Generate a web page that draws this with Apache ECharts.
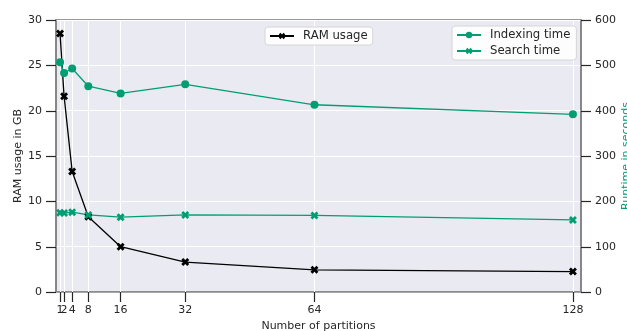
<!DOCTYPE html>
<html><head><meta charset="utf-8">
<script src="https://cdn.jsdelivr.net/npm/echarts@6/dist/echarts.min.js"></script>
<style>html,body{margin:0;padding:0;background:#fff}#c{width:627px;height:331px}</style>
</head><body><div id="c"></div>
<script>
const partitions = [1, 2, 4, 8, 16, 32, 64, 128];
const ramUsage = [28.5, 21.6, 13.3, 8.3, 5.0, 3.3, 2.45, 2.25];
const indexingTime = [507, 483, 493, 454, 438, 458, 413, 392];
const searchTime = [175, 174, 176, 170, 165, 170, 169, 159];
const xTicks = [1, 2, 4, 8, 16, 32, 64, 128];
const xTicksA = [1, 4, 8, 16, 32, 64, 128];  // labels drawn on the main axis
const xTicksB = [2];                         // label drawn on overlay axis (avoids overlap hiding)
const leftTicks = [0, 5, 10, 15, 20, 25, 30];
const rightTicks = [0, 100, 200, 300, 400, 500, 600];

const GREEN = '#029e73';
const TXT = '#262626';
const XSYM = 'path://M0,2.5 L2.5,0 L5,2.5 L7.5,0 L10,2.5 L7.5,5 L10,7.5 L7.5,10 L5,7.5 L2.5,10 L0,7.5 L2.5,5 Z';
const font = 'DejaVu Sans';
const TICK_LEN = 10;
const X_MIN = 0, X_MAX = 130;

const pair = (xs, ys) => xs.map((x, i) => [x, ys[i]]);

const legendText = {fontSize: 11.7, color: TXT, fontFamily: font, padding: [0, 0, 0, 4]};

// tick marks for the value axes, drawn through the axes' own scales
function tickSeries(yIdx, values, atX, dir) {
  return {
    type: 'custom', name: '_ticks' + yIdx, yAxisIndex: yIdx, silent: true, clip: false, z: 10,
    data: values.map(v => [atX, v]),
    renderItem: function (params, api) {
      const p = api.coord([atX, api.value(1)]);
      const y = Math.round(p[1]) + 0.5;
      return {type: 'line', shape: {x1: p[0], y1: y, x2: p[0] + dir * TICK_LEN, y2: y},
              style: {stroke: '#262626', lineWidth: 1.2}};
    }
  };
}

const chart = echarts.init(document.getElementById('c'), null, {renderer: 'canvas'});
chart.setOption({
  animation: false,
  textStyle: {fontFamily: font},
  grid: {left: 56, right: 46, top: 20, bottom: 39, containLabel: false, outerBoundsMode: 'none',
         show: true, backgroundColor: '#eaeaf2', borderColor: '#333', borderWidth: 1.2},
  legend: [
    {data: ['RAM usage'], left: 265, top: 27, z: 20, padding: [3, 5, 3, 4], itemWidth: 24, itemHeight: 8, itemGap: 4,
     backgroundColor: 'rgba(255,255,255,0.9)', borderColor: '#d6d6d6', borderWidth: 1, borderRadius: 3,
     textStyle: legendText},
    {data: ['Indexing time', 'Search time'], left: 452, top: 26, z: 20, orient: 'vertical', padding: [3, 6, 3, 4], itemWidth: 24, itemHeight: 8, itemGap: 4,
     backgroundColor: 'rgba(255,255,255,0.9)', borderColor: '#d6d6d6', borderWidth: 1, borderRadius: 3,
     textStyle: legendText}
  ],
  xAxis: [{
    type: 'value', min: X_MIN, max: X_MAX,
    name: 'Number of partitions', nameLocation: 'middle', nameGap: 29, nameMoveOverlap: false,
    nameTextStyle: {fontSize: 11, color: TXT},
    axisLine: {show: true, onZero: false, lineStyle: {color: '#8a8a8a', width: 1.5}},
    axisTick: {show: true, inside: false, length: TICK_LEN, customValues: xTicks, lineStyle: {color: '#262626', width: 1.2}},
    axisLabel: {customValues: xTicksA, fontSize: 11, color: TXT, margin: 13, showMinLabel: true, showMaxLabel: true, hideOverlap: false},
    splitLine: {show: false}
  }, {
    type: 'value', min: X_MIN, max: X_MAX, position: 'bottom',
    axisLine: {show: false, onZero: false}, axisTick: {show: false}, splitLine: {show: false},
    axisLabel: {customValues: xTicksB, fontSize: 11, color: TXT, margin: 13, hideOverlap: false}
  }],
  yAxis: [
    {type: 'value', min: 0, max: 30, interval: 5, position: 'left',
     name: 'RAM usage in GB', nameLocation: 'middle', nameGap: 32, nameRotate: 90, nameMoveOverlap: false,
     nameTextStyle: {fontSize: 11, color: TXT},
     axisLine: {show: true, onZero: false, lineStyle: {color: '#8a8a8a', width: 1.5}},
     axisTick: {show: false},
     axisLabel: {fontSize: 11, color: TXT, margin: 14},
     splitLine: {show: true, lineStyle: {color: '#fff', width: 1}}},
    {type: 'value', min: 0, max: 600, interval: 100, position: 'right',
     name: 'Runtime in seconds', nameLocation: 'middle', nameGap: 40, nameRotate: 90, nameMoveOverlap: false,
     nameTextStyle: {fontSize: 11, color: GREEN},
     axisLine: {show: true, onZero: false, lineStyle: {color: '#8a8a8a', width: 1.5}},
     axisTick: {show: false},
     axisLabel: {fontSize: 11, color: TXT, margin: 14},
     splitLine: {show: false}}
  ],
  series: [
    {type: 'line', name: '_vgrid', data: [], z: 1, silent: true, yAxisIndex: 0,
     markLine: {silent: true, z: 1, symbol: 'none', label: {show: false},
       lineStyle: {color: '#fff', width: 1, type: 'solid'},
       data: xTicks.map(v => ({xAxis: v}))}},
    tickSeries(0, leftTicks, X_MIN, -1),
    tickSeries(1, rightTicks, X_MAX, 1),
    {type: 'line', name: 'RAM usage', yAxisIndex: 0, data: pair(partitions, ramUsage),
     symbol: XSYM, symbolSize: 8, showSymbol: true,
     itemStyle: {color: '#000'}, lineStyle: {color: '#000', width: 1.3}, z: 3},
    {type: 'line', name: 'Indexing time', yAxisIndex: 1, data: pair(partitions, indexingTime),
     symbol: 'circle', symbolSize: 8,
     itemStyle: {color: GREEN, borderWidth: 0}, lineStyle: {color: GREEN, width: 1.3}},
    {type: 'line', name: 'Search time', yAxisIndex: 1, data: pair(partitions, searchTime),
     symbol: XSYM, symbolSize: 8,
     itemStyle: {color: GREEN}, lineStyle: {color: GREEN, width: 1.3}}
  ]
});
</script></body></html>
